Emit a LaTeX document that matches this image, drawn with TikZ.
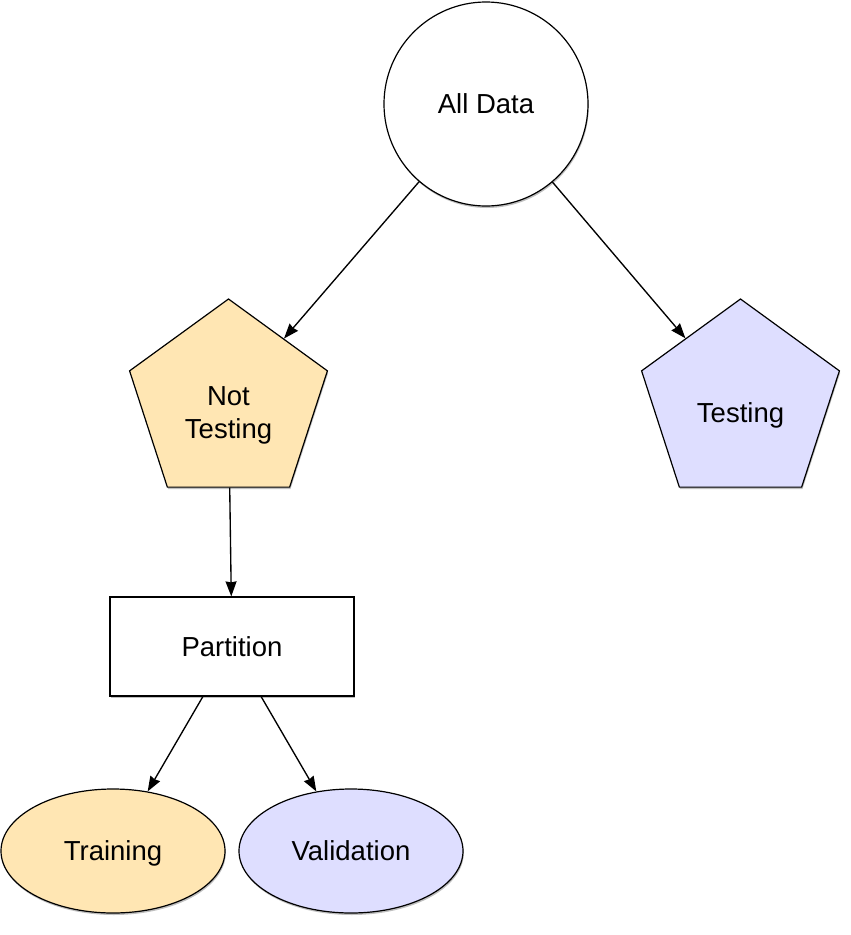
\documentclass[tikz,border=0pt]{standalone}
\usepackage{fontspec}
\setmainfont{Liberation Sans}
\usetikzlibrary{shapes.geometric,arrows.meta,shadows}
\definecolor{peach}{HTML}{FFE6B3}
\definecolor{lav}{HTML}{DEDEFF}
\begin{document}
\begin{tikzpicture}[x=1pt,y=-1pt,
  every node/.style={font=\fontsize{27.5}{33}\selectfont},
  shp/.style={draw=black, line width=1.2pt, inner sep=0pt, text height=19.5pt, text depth=0pt,
    drop shadow={shadow xshift=0.8pt, shadow yshift=-2pt, opacity=0.25, fill=black}},
  pent/.style={shp, regular polygon, regular polygon sides=5, minimum size=208pt},
  lbl/.style={align=center, inner sep=0pt},
  conn/.style={draw=black, line width=1.35pt, -{Stealth[length=15pt,width=11pt,inset=1pt]}}]
\useasboundingbox (0,0) rectangle (851,935);
\node[shp, circle, fill=white, minimum size=204pt] (all) at (486,104) {All Data};
\node[pent, fill=peach] (nt) at (228.5,403) {};
\node[lbl] (ntl) at (228.5,415.5) {Not\\Testing};
\node[pent, fill=lav] (te) at (740.5,403) {};
\node[lbl] (tel) at (740.5,415) {Testing};
\node[shp, rectangle, fill=white, minimum width=244pt, minimum height=99pt] (pa) at (232,646.5) {Partition};
\node[shp, ellipse, fill=peach, minimum width=224pt, minimum height=124pt] (tr) at (113,851) {Training};
\node[shp, ellipse, fill=lav, minimum width=224pt, minimum height=124pt] (va) at (351,851) {Validation};
\draw[conn] (all) -- (nt);
\draw[conn] (all) -- (te);
\draw[conn] (nt) -- (pa);
\draw[conn] (pa) -- (tr);
\draw[conn] (pa) -- (va);
\end{tikzpicture}
\end{document}
